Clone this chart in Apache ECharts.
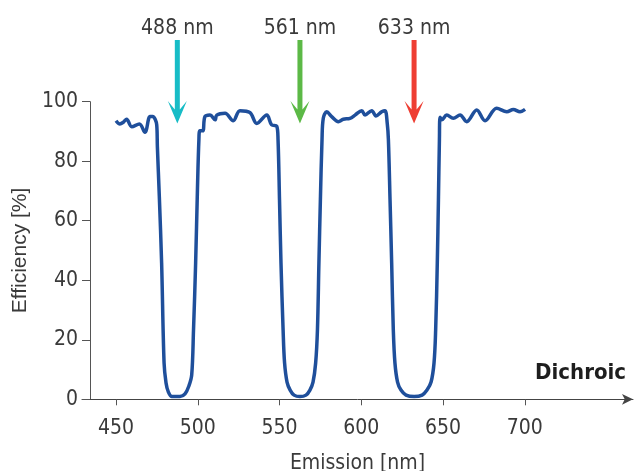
<!DOCTYPE html>
<html>
<head>
<meta charset="utf-8">
<script src="https://cdn.jsdelivr.net/npm/echarts@6/dist/echarts.min.js"></script>
<style>
html,body{margin:0;padding:0;background:#fff;}
#chart{width:637px;height:471px;}
</style>
</head>
<body>
<div id="chart"></div>
<script>
// Emission wavelength (nm)
const wavelengths = [
  450.0, 452.4, 454.5, 456.5, 459.6, 464.3, 467.7, 470.8, 472.4, 474.9,
  475.3, 476.5, 477.9, 479.4, 480.6, 482.0, 484.2, 489.1, 492.2, 494.6,
  496.3, 497.4, 498.7, 499.8, 500.7, 501.3, 503.1, 504.4,
  507.5, 510.6, 511.6, 516.7, 521.7, 525.8, 532.0, 536.1, 542.2, 545.2, 548.3,
  549.1, 550.0, 550.9, 552.2, 553.1, 554.6, 556.5, 558.9, 562.5, 566.2,
  568.6, 570.5, 572.1, 573.2, 574.1, 575.0, 576.0, 576.8, 578.9,
  581.9, 586.0, 589.0, 593.1, 596.2, 600.3, 602.3, 606.4, 609.0, 612.5, 614.5, 615.9,
  616.6, 617.6, 618.6, 619.6, 620.6, 622.2, 624.3, 627.4, 632.3, 637.2,
  640.2, 642.7, 644.5, 645.5, 646.5, 647.2, 647.8, 648.2, 649.2,
  652.3, 656.3, 660.4, 664.5, 670.6, 675.7, 682.8, 689.0, 693.0, 697.1, 700.2
];
// Efficiency (%)
const efficiency = [
  93.6, 92.5, 93.1, 94.1, 91.6, 92.5, 89.7, 95.0, 95.0, 92.2,
  84.9, 68.0, 45.8, 12.2, 5.5, 2.5, 0.9, 0.9, 1.8, 4.5,
  8.2, 23.3, 45.8, 70.3, 87.2, 90.2, 90.2, 95.0,
  95.5, 93.9, 95.5, 96.1, 93.6, 97.0, 96.3, 92.7, 95.5, 92.2, 91.8,
  87.2, 67.0, 45.8, 23.3, 12.2, 5.8, 3.1, 1.4, 0.9, 1.4,
  3.1, 5.8, 12.2, 23.3, 45.8, 67.0, 87.2, 94.5, 96.6,
  95.0, 93.3, 94.1, 94.4, 95.5, 97.0, 95.5, 97.0, 95.2, 96.6, 97.0, 92.7,
  87.2, 67.0, 45.8, 23.3, 12.2, 5.8, 3.1, 1.4, 0.9, 1.4,
  3.1, 5.8, 12.2, 23.3, 45.8, 67.0, 87.2, 94.8, 93.9,
  95.5, 94.4, 95.5, 93.3, 97.2, 93.6, 97.8, 96.6, 97.4, 96.6, 97.4
];
// Laser lines marked by arrows (position, label text)
const arrowPositions = [487.5, 562.5, 632.3];
const laserLabels = ['488 nm', '561 nm', '633 nm'];
const laserColors = ['#17bcc6', '#5cb946', '#ee3e33'];
const arrowTipValue = 92.7;
// Axis ticks
const xTicks = [450, 500, 550, 600, 650, 700];
const yTicks = [0, 20, 40, 60, 80, 100];

const FONT = "'Liberation Sans Narrow', 'DejaVu Sans Condensed', sans-serif";
const TXT = '#3a3a3a';
const AX = '#555555';

const chart = echarts.init(document.getElementById('chart'), null, {renderer: 'canvas'});

const lineData = wavelengths.map((w, i) => [w, efficiency[i]]);
const arrowData = arrowPositions.map((w, i) => [w, arrowTipValue, i]);

chart.setOption({
  animation: false,
  backgroundColor: '#ffffff',
  grid: {left: 82, right: 4, top: 101.7, bottom: 71.7, containLabel: false, outerBoundsMode: 'none'},
  xAxis: {
    type: 'value',
    min: 429.2,
    max: 766.2,
    name: 'Emission [nm]',
    nameLocation: 'middle',
    nameGap: 54,
    nameTextStyle: {fontFamily: FONT, fontSize: 21, color: TXT},
    axisLine: {show: true, onZero: false, lineStyle: {color: '#444444', width: 1},
      symbol: ['none', 'arrow'], symbolSize: [8, 11]},
    axisTick: {show: true, length: 6, inside: false, customValues: xTicks, lineStyle: {color: AX}},
    axisLabel: {customValues: xTicks, margin: 19, fontFamily: FONT, fontSize: 21, color: TXT},
    splitLine: {show: false}
  },
  yAxis: {
    type: 'value',
    min: yTicks[0],
    max: yTicks[yTicks.length - 1],
    interval: 20,
    offset: -8,
    name: 'Efficiency [%]',
    nameLocation: 'middle',
    nameGap: 53,
    nameRotate: 90,
    nameTextStyle: {fontFamily: "'Liberation Sans', Arial, sans-serif", fontSize: 21, color: TXT},
    axisLine: {show: true, onZero: false, lineStyle: {color: AX, width: 1}},
    axisTick: {show: true, length: 8, inside: false, lineStyle: {color: AX}},
    axisLabel: {margin: 12, fontFamily: FONT, fontSize: 21, color: TXT},
    splitLine: {show: false}
  },
  series: [
    {
      type: 'line',
      data: lineData,
      showSymbol: false,
      smooth: 0.35,
      clip: false,
      lineStyle: {color: '#1f4f9b', width: 3.5},
      z: 3
    },
    {
      type: 'custom',
      data: arrowData,
      clip: false,
      silent: true,
      z: 4,
      renderItem: function (params, api) {
        const p = api.coord([api.value(0), api.value(1)]);
        const idx = api.value(2);
        const x = p[0], y = p[1];
        const c = laserColors[idx];
        return {
          type: 'group',
          children: [
            {
              type: 'polygon',
              shape: {points: [
                [x - 2.5, y - 83.5], [x + 2.5, y - 83.5], [x + 2.5, y - 14],
                [x + 9.5, y - 22.5], [x, y], [x - 9.5, y - 22.5], [x - 2.5, y - 14]
              ]},
              style: {fill: c}
            },
            {
              type: 'text',
              x: x,
              y: y - 95,
              style: {
                text: laserLabels[idx],
                fontFamily: FONT,
                fontSize: 21,
                fill: TXT,
                align: 'center',
                verticalAlign: 'middle'
              }
            }
          ]
        };
      }
    }
  ],
  graphic: [
    {
      type: 'text',
      right: 11,
      top: 362,
      style: {
        text: 'Dichroic',
        fontFamily: FONT,
        fontWeight: 'bold',
        fontSize: 22,
        fill: '#1e1e1e'
      }
    }
  ]
});
</script>
</body>
</html>
